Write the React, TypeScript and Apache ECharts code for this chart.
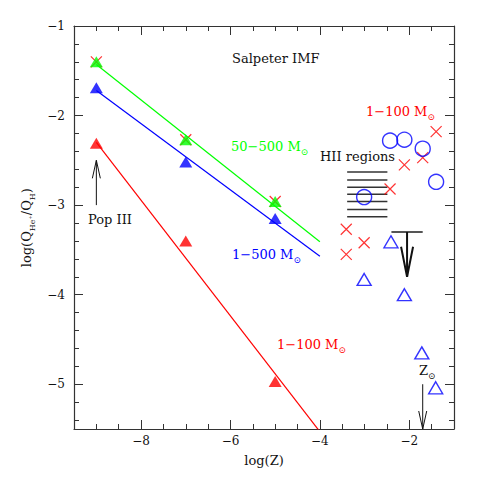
import React, { useEffect, useRef } from "react";
import * as echarts from "echarts";

// ---- Salpeter IMF model points (log Z vs log Q(He+)/Q(H)) ----
const modelLogZ = [-9, -7, -5];
const q50to500 = [-1.4, -2.27, -2.96];
const q1to500 = [-1.69, -2.52, -3.15];
const q1to100 = [-2.31, -3.4, -4.97];

// ---- fitted relations ----
const fitLogZ = [-9, -4];
const fit50to500 = [-1.43, -3.41];
const fit1to500 = [-1.72, -3.57];
const fit1to100 = [-2.3, -5.53];

// ---- 1-100 Msun models at higher Z (crosses) ----
const crossLogZ = [-1.4, -1.7, -2.11, -2.43, -3.41, -3.01, -3.41];
const crossQ = [-2.18, -2.47, -2.55, -2.82, -3.27, -3.42, -3.55];

// ---- open circles ----
const circleLogZ = [-2.43, -2.11, -1.7, -1.4, -3.01];
const circleQ = [-2.28, -2.27, -2.37, -2.74, -2.91];

// ---- open triangles ----
const openTriLogZ = [-2.41, -3.01, -2.11, -1.72, -1.41];
const openTriQ = [-3.41, -3.83, -4.0, -4.65, -5.04];

// ---- HII regions band ----
const hiiLogZRange = [-3.39, -2.49];
const hiiQ = [-2.63, -2.72, -2.8, -2.88, -2.96, -3.05, -3.13];

// ---- upper limit ----
const limitLogZRange = [-2.4, -1.7];
const limitQ = [-3.3];
const limitArrow = [-2.05, -3.3, -3.8];

// ---- annotation arrows ----
const popIIIArrow = [-9, -3.0, -2.5];
const zSunArrow = [-1.7, -5.0, -5.5];

// ---- ticks ----
const xMajorTicks = [-8, -6, -4, -2];
const xMinorTicks = [-9, -8.5, -7.5, -7, -6.5, -5.5, -5, -4.5, -3.5, -3, -2.5, -1.5];
const yMajorTicks = [-5, -4, -3, -2, -1];
const yMinorTicks = [
  -5.4, -5.2, -4.8, -4.6, -4.4, -4.2, -3.8, -3.6, -3.4, -3.2, -2.8, -2.6, -2.4,
  -2.2, -1.8, -1.6, -1.4, -1.2,
];

const FONT = "DejaVu Serif";
const AXIS_COLOR = "#333";
const RED = "#ff0000";
const GREEN = "#00ff00";
const BLUE = "#0000ff";
const CROSS = "path://M0 0L10 10M10 0L0 10";

const fmt = (v: number) => (v < 0 ? "\u2212" + String(-v) : String(v));

function makeAxis(
  dim: "x" | "y",
  position: string,
  ticks: number[],
  len: number,
  withLine: boolean,
  withLabels: boolean
): any {
  const isX = dim === "x";
  return {
    type: "value",
    min: isX ? -9.5 : -5.5,
    max: -1,
    position,
    axisLine: {
      show: withLine,
      onZero: false,
      lineStyle: { color: AXIS_COLOR, width: 1.2 },
    },
    axisTick: {
      show: true,
      inside: true,
      length: len,
      customValues: ticks,
      lineStyle: { color: AXIS_COLOR, width: 1 },
    },
    axisLabel: {
      show: withLabels,
      customValues: ticks,
      formatter: fmt,
      margin: isX ? 6 : 9,
      color: "#111",
      fontSize: 12,
      fontFamily: FONT,
    },
    splitLine: { show: false },
  };
}

function richText(main: string, sub: string | null, color: string) {
  return {
    text: sub ? `{n|${main}}{s|${sub}}{h| }` : `{n|${main}}{h| }`,
    rich: {
      n: { fontSize: 13, fontFamily: FONT, fill: color, lineHeight: 13, verticalAlign: "top" },
      s: { fontSize: 9, fontFamily: FONT, fill: color, lineHeight: 9, verticalAlign: "bottom" },
      h: { fontSize: 1, lineHeight: 16 },
    },
    align: "left",
    verticalAlign: "top",
  };
}

function label(x: number, y: number, main: string, sub: string | null, color: string) {
  return { type: "text", x, y, z: 100, style: richText(main, sub, color) };
}

function hLineRenderer(color: string, width: number) {
  return (_params: any, api: any) => {
    const p0 = api.coord([api.value(0), api.value(2)]);
    const p1 = api.coord([api.value(1), api.value(2)]);
    return {
      type: "line",
      shape: { x1: p0[0], y1: p0[1], x2: p1[0], y2: p1[1] },
      style: { stroke: color, lineWidth: width },
    };
  };
}

function arrowRenderer(headLen: number, headHalf: number, width: number, color: string) {
  return (_params: any, api: any) => {
    const x = api.value(0);
    const p0 = api.coord([x, api.value(1)]);
    const p1 = api.coord([x, api.value(2)]);
    const dir = p1[1] > p0[1] ? 1 : -1;
    const hy = p1[1] - dir * headLen;
    return {
      type: "group",
      children: [
        {
          type: "line",
          shape: { x1: p0[0], y1: p0[1], x2: p1[0], y2: p1[1] },
          style: { stroke: color, lineWidth: width },
        },
        {
          type: "polyline",
          shape: { points: [[p1[0] - headHalf, hy], [p1[0], p1[1]], [p1[0] + headHalf, hy]] },
          style: { stroke: color, lineWidth: width, fill: "none" },
        },
      ],
    };
  };
}

const pairs = (xs: number[], ys: number[]) => xs.map((x, i) => [x, ys[i]]);

export default function App() {
  const ref = useRef<HTMLDivElement>(null);
  useEffect(() => {
    document.body.style.margin = "0";
    if (!ref.current) return;
    const chart = echarts.init(ref.current, null, { renderer: "svg" });
    const xMain = makeAxis("x", "bottom", xMajorTicks, 9, true, true);
    xMain.name = "log(Z)";
    xMain.nameLocation = "middle";
    xMain.nameGap = 25;
    xMain.nameTextStyle = { fontFamily: FONT, fontSize: 13, color: "#111" };
    const yMain = makeAxis("y", "left", yMajorTicks, 9, true, true);
    yMain.name = "{n|log(Q}{s|He\u207A}{n|/Q}{s|H}{n|)}{h| }";
    yMain.nameLocation = "middle";
    yMain.nameGap = 31;
    yMain.nameTextStyle = {
      rich: {
        n: { fontSize: 13, fontFamily: FONT, color: "#111", lineHeight: 13, verticalAlign: "top" },
        s: { fontSize: 8, fontFamily: FONT, color: "#111", lineHeight: 8, verticalAlign: "bottom" },
        h: { fontSize: 1, lineHeight: 16 },
      },
    };

    const option: any = {
      animation: false,
      textStyle: { fontFamily: FONT },
      grid: { left: 74, right: 26, top: 26, bottom: 51 },
      xAxis: [
        xMain,
        makeAxis("x", "bottom", xMinorTicks, 5, false, false),
        makeAxis("x", "top", xMajorTicks, 9, true, false),
        makeAxis("x", "top", xMinorTicks, 5, false, false),
      ],
      yAxis: [
        yMain,
        makeAxis("y", "left", yMinorTicks, 5, false, false),
        makeAxis("y", "right", yMajorTicks, 9, true, false),
        makeAxis("y", "right", yMinorTicks, 5, false, false),
      ],
      series: [
        {
          type: "scatter",
          data: pairs(modelLogZ, q50to500),
          symbol: CROSS,
          symbolSize: 11,
          itemStyle: { color: "transparent", borderColor: RED, borderWidth: 1.2 },
          z: 1,
        },
        {
          type: "line",
          data: pairs(fitLogZ, fit50to500),
          showSymbol: false,
          lineStyle: { color: GREEN, width: 1.2 },
          z: 2,
        },
        {
          type: "line",
          data: pairs(fitLogZ, fit1to500),
          showSymbol: false,
          lineStyle: { color: BLUE, width: 1.2 },
          z: 2,
        },
        {
          type: "line",
          data: pairs(fitLogZ, fit1to100),
          showSymbol: false,
          lineStyle: { color: RED, width: 1.2 },
          clip: true,
          z: 2,
        },
        {
          type: "scatter",
          data: pairs(modelLogZ, q50to500),
          symbol: "triangle",
          symbolSize: [13, 11],
          itemStyle: { color: GREEN },
          z: 3,
        },
        {
          type: "scatter",
          data: pairs(modelLogZ, q1to500),
          symbol: "triangle",
          symbolSize: [13, 11],
          itemStyle: { color: BLUE },
          z: 3,
        },
        {
          type: "scatter",
          data: pairs(modelLogZ, q1to100),
          symbol: "triangle",
          symbolSize: [13, 11],
          itemStyle: { color: RED },
          z: 3,
        },
        {
          type: "scatter",
          data: pairs(crossLogZ, crossQ),
          symbol: CROSS,
          symbolSize: 11,
          itemStyle: { color: "transparent", borderColor: RED, borderWidth: 1.2 },
          z: 3,
        },
        {
          type: "scatter",
          data: pairs(circleLogZ, circleQ),
          symbol: "circle",
          symbolSize: 15,
          itemStyle: { color: "transparent", borderColor: BLUE, borderWidth: 1.4 },
          z: 3,
        },
        {
          type: "scatter",
          data: pairs(openTriLogZ, openTriQ),
          symbol: "triangle",
          symbolSize: [14, 12],
          itemStyle: { color: "transparent", borderColor: BLUE, borderWidth: 1.4 },
          z: 3,
        },
        {
          type: "custom",
          renderItem: hLineRenderer("#333", 1.5),
          data: hiiQ.map((q) => [hiiLogZRange[0], hiiLogZRange[1], q]),
          encode: { x: [0, 1], y: 2 },
          z: 2,
        },
        {
          type: "custom",
          renderItem: hLineRenderer("#555", 2),
          data: limitQ.map((q) => [limitLogZRange[0], limitLogZRange[1], q]),
          encode: { x: [0, 1], y: 2 },
          z: 2,
        },
        {
          type: "custom",
          renderItem: arrowRenderer(30, 6, 2, "#111"),
          data: [limitArrow],
          encode: { x: 0, y: [1, 2] },
          z: 2,
        },
        {
          type: "custom",
          renderItem: arrowRenderer(18, 4, 1, "#111"),
          data: [popIIIArrow, zSunArrow],
          encode: { x: 0, y: [1, 2] },
          z: 2,
        },
      ],
      graphic: [
        label(232, 52, "Salpeter IMF", null, "#111"),
        label(231, 140, "50\u2212500 M", "\u2299", GREEN),
        label(232, 248, "1\u2212500 M", "\u2299", BLUE),
        label(277, 338, "1\u2212100 M", "\u2299", RED),
        label(366, 105, "1\u2212100 M", "\u2299", RED),
        label(320, 150, "HII regions", null, "#111"),
        label(88, 213, "Pop III", null, "#111"),
        label(419, 364, "Z", "\u2299", "#111"),
      ],
    };
    chart.setOption(option);
    return () => chart.dispose();
  }, []);
  return <div ref={ref} style={{ width: 480, height: 480 }} />;
}
